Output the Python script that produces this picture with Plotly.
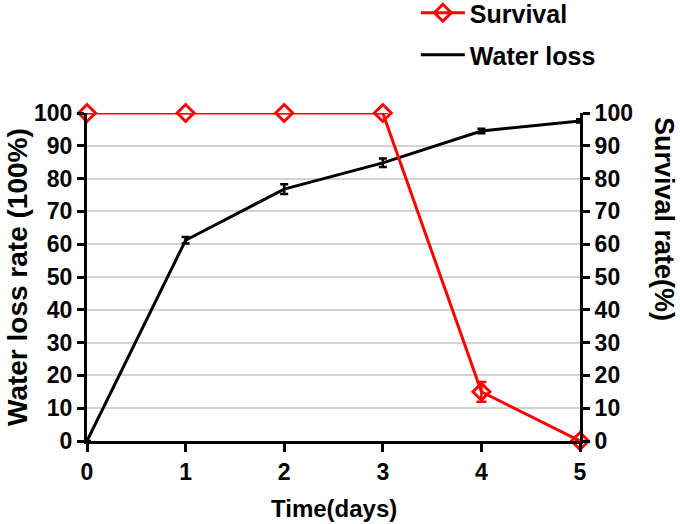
import plotly.graph_objects as go

days = [0, 1, 2, 3, 4, 5]
water_loss = [0, 61.2, 76.8, 84.8, 94.5, 97.6]
water_loss_err = [0, 1.0, 1.5, 1.3, 0.7, 0.5]
survival = [100, 100, 100, 100, 15, 0]
survival_err = [0, 0, 0, 0, 3, 0]
y_ticks = [0, 10, 20, 30, 40, 50, 60, 70, 80, 90, 100]

FONT = "Liberation Sans, Arial, sans-serif"
RED = "#ff0000"

fig = go.Figure()
fig.add_trace(go.Scatter(
    x=days, y=water_loss, name="Water loss", mode="lines",
    line=dict(color="black", width=3), cliponaxis=False,
    error_y=dict(type="data", array=water_loss_err, color="black", thickness=2.5, width=4),
    legend="legend2", showlegend=True,
))
fig.add_trace(go.Scatter(
    x=days, y=survival, name="Survival", mode="lines+markers", yaxis="y2",
    line=dict(color=RED, width=3), cliponaxis=False,
    marker=dict(symbol="diamond-open", size=13, color=RED, line=dict(width=3, color=RED)),
    error_y=dict(type="data", array=survival_err, color=RED, thickness=2.5, width=5),
    legend="legend", showlegend=True,
))

tickfont = dict(family=FONT, size=23, color="black", weight="bold")
legfont = dict(family=FONT, size=25, color="black", weight="bold")
fig.update_layout(
    width=680, height=524, showlegend=True,
    margin=dict(l=87, r=100, t=113, b=83, autoexpand=False),
    plot_bgcolor="white", paper_bgcolor="white",
    xaxis=dict(
        range=[0, 5], tickvals=days, ticks="outside", ticklen=8, tickwidth=3,
        tickcolor="black", showline=True, linewidth=3, linecolor="black",
        showgrid=False, zeroline=False, tickfont=tickfont, automargin=False,
    ),
    yaxis=dict(
        range=[0, 100], tickvals=y_ticks, ticks="outside", ticklen=7, tickwidth=3,
        tickcolor="black", showline=True, linewidth=3, linecolor="black",
        showgrid=True, gridcolor="#d3d3d3", gridwidth=1.5, zeroline=False,
        tickfont=tickfont, ticklabelstandoff=0, automargin=False,
    ),
    yaxis2=dict(
        range=[0, 100], tickvals=y_ticks, ticks="outside", ticklen=7, tickwidth=3,
        tickcolor="black", showline=True, linewidth=3, linecolor="black",
        overlaying="y", side="right", showgrid=False, zeroline=False,
        tickfont=tickfont, ticklabelstandoff=0, automargin=False,
    ),
    legend=dict(x=0.667, y=1 - 13 / 524, xref="paper", yref="container",
                xanchor="left", yanchor="middle", font=legfont, itemwidth=44,
                bgcolor="rgba(0,0,0,0)", visible=True),
    legend2=dict(x=0.667, y=1 - 55 / 524, xref="paper", yref="container",
                 xanchor="left", yanchor="middle", font=legfont, itemwidth=44,
                 bgcolor="rgba(0,0,0,0)", visible=True),
    annotations=[
        dict(text="Time(days)", xref="paper", yref="paper", x=0.5, y=-(508 - 441) / 328,
             xanchor="center", yanchor="middle", showarrow=False,
             font=dict(family=FONT, size=24, color="black", weight="bold")),
        dict(text="Water loss rate (100%)", xref="paper", yref="paper",
             x=(17 - 87) / 493, y=0.5,
             xanchor="center", yanchor="middle", showarrow=False, textangle=-90,
             font=dict(family=FONT, size=28, color="black", weight="bold")),
        dict(text="Survival rate(%)", xref="paper", yref="paper",
             x=(664 - 87) / 493, y=(441 - 219) / 328,
             xanchor="center", yanchor="middle", showarrow=False, textangle=90,
             font=dict(family=FONT, size=27, color="black", weight="bold")),
    ],
)

fig.write_html("out.html", config={"displayModeBar": False},
               post_script="document.body.style.margin='0';")
